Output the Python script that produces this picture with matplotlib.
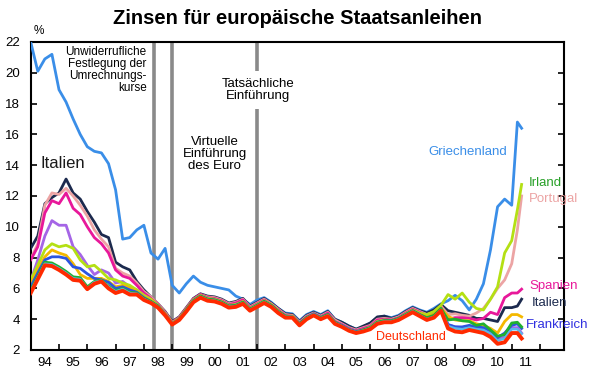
import numpy as np
import matplotlib
matplotlib.use("Agg")
import matplotlib.pyplot as plt

plt.rcParams['font.family'] = ['Liberation Sans', 'DejaVu Sans']

# quarterly points 1994.0 ... 2011.0, then two points in 2011
jahre = np.append(np.arange(1994, 2011.01, 0.25), [2011.2, 2011.35])

griechenland = [22.0, 20.1, 20.9, 21.2, 18.9, 18.1, 17.0, 16.0, 15.2, 14.9, 14.8, 14.1,
                12.4, 9.2, 9.3, 9.8, 10.1, 8.3, 7.9, 8.6, 6.2, 5.7, 6.3, 6.8,
                6.4, 6.2, 6.1, 6.0, 5.9, 5.5, 5.3, 4.95, 5.25, 5.4, 5.1, 4.7,
                4.4, 4.35, 3.9, 4.3, 4.5, 4.3, 4.55, 4.0, 3.8, 3.55, 3.35, 3.5,
                3.75, 4.1, 4.2, 4.1, 4.25, 4.55, 4.8, 4.6, 4.45, 4.7, 5.0, 5.2,
                5.55, 5.2, 4.6, 5.3, 6.3, 8.5, 11.3, 11.8, 11.4, 16.8, 16.4]
italien = [8.6, 9.4, 11.5, 11.9, 12.2, 13.1, 12.2, 11.8, 11.0, 10.3, 9.5, 9.3,
           7.7, 7.4, 7.2, 6.45, 5.9, 5.45, 5.0, 4.5, 3.85, 4.15, 4.75, 5.35,
           5.65, 5.5, 5.45, 5.3, 5.05, 5.15, 5.35, 4.85, 5.1, 5.35, 5.05, 4.7,
           4.35, 4.3, 3.85, 4.25, 4.45, 4.25, 4.5, 4.0, 3.8, 3.55, 3.35, 3.55,
           3.75, 4.15, 4.2, 4.05, 4.2, 4.5, 4.75, 4.55, 4.4, 4.6, 4.95, 4.55,
           4.45, 4.35, 4.25, 4.05, 4.05, 3.95, 3.85, 4.75, 4.75, 4.85, 5.3]
portugal = [7.9, 8.9, 11.4, 12.2, 12.1, 12.5, 12.0, 11.4, 10.7, 9.8, 9.2, 8.7,
            7.3, 7.0, 6.8, 6.35, 5.8, 5.45, 5.0, 4.45, 3.8, 4.1, 4.7, 5.3,
            5.6, 5.45, 5.4, 5.25, 5.0, 5.1, 5.3, 4.8, 5.05, 5.3, 5.0, 4.65,
            4.3, 4.25, 3.8, 4.2, 4.4, 4.2, 4.45, 3.95, 3.7, 3.45, 3.3, 3.45,
            3.6, 4.0, 4.05, 4.0, 4.15, 4.45, 4.7, 4.5, 4.3, 4.45, 4.85, 4.3,
            4.35, 4.25, 4.2, 4.4, 4.7, 5.3, 6.0, 6.55, 7.6, 9.8, 12.0]
spanien = [7.85, 8.7, 10.9, 11.7, 11.5, 12.2, 11.2, 10.8, 10.0, 9.3, 8.9, 8.3,
           7.2, 6.8, 6.65, 6.2, 5.7, 5.35, 4.95, 4.4, 3.8, 4.1, 4.7, 5.3,
           5.6, 5.4, 5.35, 5.2, 4.95, 5.05, 5.25, 4.75, 5.0, 5.25, 4.95, 4.6,
           4.25, 4.2, 3.75, 4.15, 4.35, 4.15, 4.4, 3.85, 3.65, 3.4, 3.25, 3.4,
           3.55, 3.95, 4.0, 3.95, 4.1, 4.4, 4.65, 4.45, 4.25, 4.35, 4.75, 4.0,
           4.1, 4.1, 4.05, 3.95, 4.05, 4.45, 4.3, 5.4, 5.7, 5.7, 5.95]
irland = [6.55, 7.5, 8.5, 8.9, 8.7, 8.8, 8.6, 7.85, 7.4, 7.5, 7.1, 6.65,
          6.55, 6.35, 6.2, 5.9, 5.55, 5.3, 4.9, 4.35, 3.75, 4.05, 4.65, 5.25,
          5.55, 5.35, 5.3, 5.15, 4.9, 4.95, 5.15, 4.7, 4.95, 5.2, 4.95, 4.55,
          4.2, 4.2, 3.7, 4.1, 4.3, 4.1, 4.3, 3.8, 3.55, 3.35, 3.2, 3.3,
          3.5, 3.85, 3.95, 3.9, 4.05, 4.35, 4.6, 4.4, 4.3, 4.5, 4.9, 5.6,
          5.3, 5.7, 5.1, 4.7, 4.6, 5.3, 6.1, 8.3, 9.1, 11.1, 12.75]
lila = [6.5, 7.85, 9.4, 10.4, 10.1, 10.1, 8.7, 8.2, 7.5, 6.9, 7.2, 7.0,
        6.35, 6.45, 6.1, 5.9, 5.55, 5.25, 4.9, 4.35, 3.75, 4.05, 4.6, 5.2,
        5.5, 5.3, 5.25, 5.1, 4.85, 4.9, 5.1, 4.65, 4.9, 5.15, 4.9, 4.5,
        4.2, 4.15, 3.7, 4.1, 4.35, 4.1, 4.3, 3.8, 3.6, 3.35, 3.2, 3.3,
        3.45, 3.8, 3.9, 3.9, 4.05, 4.3, 4.55, 4.3, 4.1, 4.25, 4.65, 3.65,
        3.5, 3.45, 3.55, 3.45, 3.4, 3.15, 2.7, 2.85, 3.45, 3.45, 3.1]
gelb = [6.3, 7.2, 8.05, 8.5, 8.3, 8.15, 7.6, 6.9, 6.65, 6.65, 6.65, 6.45,
        6.1, 6.2, 6.0, 5.8, 5.45, 5.2, 4.85, 4.35, 3.75, 4.05, 4.6, 5.2,
        5.5, 5.3, 5.25, 5.1, 4.85, 4.9, 5.1, 4.65, 4.9, 5.15, 4.9, 4.5,
        4.2, 4.15, 3.7, 4.1, 4.35, 4.1, 4.3, 3.8, 3.6, 3.35, 3.2, 3.3,
        3.45, 3.8, 3.9, 3.9, 4.05, 4.3, 4.55, 4.35, 4.15, 4.3, 4.7, 4.2,
        3.95, 3.9, 3.9, 3.7, 3.6, 3.4, 3.1, 3.85, 4.3, 4.3, 4.15]
frankreich = [6.1, 7.0, 7.85, 8.05, 8.05, 7.95, 7.4, 7.3, 6.95, 6.65, 6.55, 6.4,
              6.0, 6.1, 5.9, 5.75, 5.4, 5.15, 4.85, 4.3, 3.7, 4.0, 4.6, 5.2,
              5.5, 5.3, 5.25, 5.1, 4.85, 4.9, 5.1, 4.65, 4.9, 5.15, 4.9, 4.5,
              4.2, 4.15, 3.7, 4.1, 4.35, 4.1, 4.3, 3.8, 3.6, 3.35, 3.2, 3.3,
              3.45, 3.8, 3.9, 3.9, 4.05, 4.3, 4.55, 4.3, 4.05, 4.2, 4.65, 3.65,
              3.5, 3.5, 3.6, 3.5, 3.45, 3.25, 2.8, 3.1, 3.6, 3.7, 3.4]
gruen = [5.9, 6.8, 7.7, 7.65, 7.4, 7.1, 6.75, 6.7, 6.1, 6.45, 6.55, 6.15,
         5.85, 6.0, 5.75, 5.7, 5.35, 5.15, 4.85, 4.3, 3.7, 4.0, 4.6, 5.2,
         5.5, 5.3, 5.25, 5.1, 4.85, 4.9, 5.1, 4.65, 4.9, 5.15, 4.9, 4.5,
         4.2, 4.15, 3.7, 4.1, 4.3, 4.1, 4.3, 3.8, 3.55, 3.3, 3.15, 3.3,
         3.45, 3.8, 3.9, 3.9, 4.05, 4.3, 4.55, 4.3, 4.1, 4.25, 4.7, 3.95,
         4.0, 3.9, 3.85, 3.6, 3.7, 3.3, 2.9, 3.0, 3.75, 3.8, 3.5]
hellblau = [5.8, 6.7, 7.6, 7.55, 7.3, 7.0, 6.65, 6.6, 6.0, 6.4, 6.5, 6.1,
            5.8, 5.95, 5.7, 5.65, 5.3, 5.1, 4.8, 4.3, 3.7, 4.0, 4.55, 5.15,
            5.45, 5.25, 5.2, 5.05, 4.8, 4.85, 5.05, 4.6, 4.85, 5.1, 4.85, 4.45,
            4.15, 4.15, 3.65, 4.05, 4.3, 4.05, 4.25, 3.75, 3.55, 3.3, 3.15, 3.25,
            3.4, 3.75, 3.85, 3.85, 4.0, 4.25, 4.5, 4.25, 4.0, 4.15, 4.6, 3.55,
            3.4, 3.35, 3.45, 3.35, 3.3, 3.05, 2.6, 2.75, 3.35, 3.35, 3.05]
deutschland = [5.7, 6.6, 7.5, 7.45, 7.2, 6.9, 6.55, 6.5, 5.95, 6.3, 6.45, 6.0,
               5.7, 5.85, 5.6, 5.6, 5.25, 5.05, 4.75, 4.25, 3.65, 3.95, 4.5, 5.1,
               5.4, 5.2, 5.15, 5.0, 4.75, 4.8, 5.0, 4.55, 4.8, 5.05, 4.8, 4.4,
               4.1, 4.1, 3.6, 4.0, 4.25, 4.0, 4.2, 3.7, 3.5, 3.25, 3.1, 3.2,
               3.35, 3.7, 3.8, 3.8, 3.95, 4.2, 4.45, 4.2, 3.95, 4.1, 4.55, 3.4,
               3.2, 3.15, 3.3, 3.2, 3.1, 2.85, 2.4, 2.5, 3.1, 3.1, 2.75]

ereignisse = [1998.35, 1999.0, 2002.0]
jahr_labels = ['94', '95', '96', '97', '98', '99', '00', '01', '02', '03',
               '04', '05', '06', '07', '08', '09', '10', '11']

fig = plt.figure(figsize=(5.95, 3.75), dpi=100)
ax = fig.add_axes([0.0516, 0.0667, 0.8964, 0.8213])

for x in ereignisse:
    ax.axvline(x, color='#8a8a8a', lw=2.6, zorder=1)

serien = [
    (griechenland, '#3a8ee8', 2.0),
    (italien, '#1c2a4e', 2.0),
    (portugal, '#eca4a4', 2.0),
    (spanien, '#e8189a', 2.0),
    (lila, '#a565e6', 2.0),
    (irland, '#b4e014', 2.0),
    (gelb, '#f4b800', 2.0),
    (frankreich, '#2c55e0', 2.0),
    (gruen, '#20b030', 2.0),
    (hellblau, '#5ab8ec', 1.8),
    (deutschland, '#ff2a00', 2.8),
]
for werte, farbe, lw in serien:
    ax.plot(jahre, werte, color=farbe, lw=lw, zorder=3, solid_joinstyle='round')

ax.set_xlim(1994, 2012.85)
ax.set_ylim(2, 22)
ax.set_yticks(range(2, 23, 2))
ax.set_xticks(range(1994, 2013))
ax.set_xticklabels([])
ax.set_xticks(np.arange(1994.5, 2012, 1), minor=True)
ax.set_xticklabels(jahr_labels, minor=True)
ax.tick_params(axis='x', which='minor', length=0, labelsize=9.5, pad=5)
ax.tick_params(axis='both', which='major', direction='in', length=4, width=1.2,
               labelsize=9.5, right=True)
ax.tick_params(axis='y', pad=8)
for s in ax.spines.values():
    s.set_linewidth(1.5)

fig.text(0.5, 0.952, 'Zinsen für europäische Staatsanleihen', ha='center', va='center',
         fontsize=14.5, fontweight='bold')
ax.text(1994.3, 22.35, '%', fontsize=8.5, ha='center', va='bottom')

ax.text(1998.1, 21.75, 'Unwiderrufliche\nFestlegung der\nUmrechnungs-\nkurse',
        ha='right', va='top', fontsize=8.5, linespacing=1.0, zorder=5)
ax.text(2002.05, 18.9, 'Tatsächliche\nEinführung', ha='center', va='center',
        fontsize=9.5, linespacing=1.05, zorder=5,
        bbox=dict(facecolor='white', edgecolor='none', pad=5))
ax.text(2000.5, 14.75, 'Virtuelle\nEinführung\ndes Euro', ha='center', va='center',
        fontsize=9.5, linespacing=1.0, zorder=5)

ax.text(1994.35, 14.1, 'Italien', fontsize=12, ha='left', va='center', color='#1a1a1a')
ax.text(2009.45, 14.85, 'Griechenland', fontsize=9.5, ha='center', va='center', color='#3a8ee8')
ax.text(2011.6, 12.85, 'Irland', fontsize=9.5, ha='left', va='center', color='#28a028')
ax.text(2011.6, 11.8, 'Portugal', fontsize=9.5, ha='left', va='center', color='#eca4a4')
ax.text(2011.62, 6.15, 'Spanien', fontsize=9.5, ha='left', va='center', color='#e8189a')
ax.text(2011.7, 5.05, 'Italien', fontsize=9.5, ha='left', va='center', color='#1c2a4e')
ax.text(2011.5, 3.6, 'Frankreich', fontsize=9.5, ha='left', va='center', color='#3030e0')
ax.text(2007.45, 2.85, 'Deutschland', fontsize=9, ha='center', va='center', color='#ff2a00')

fig.savefig('out.png', dpi=100)
